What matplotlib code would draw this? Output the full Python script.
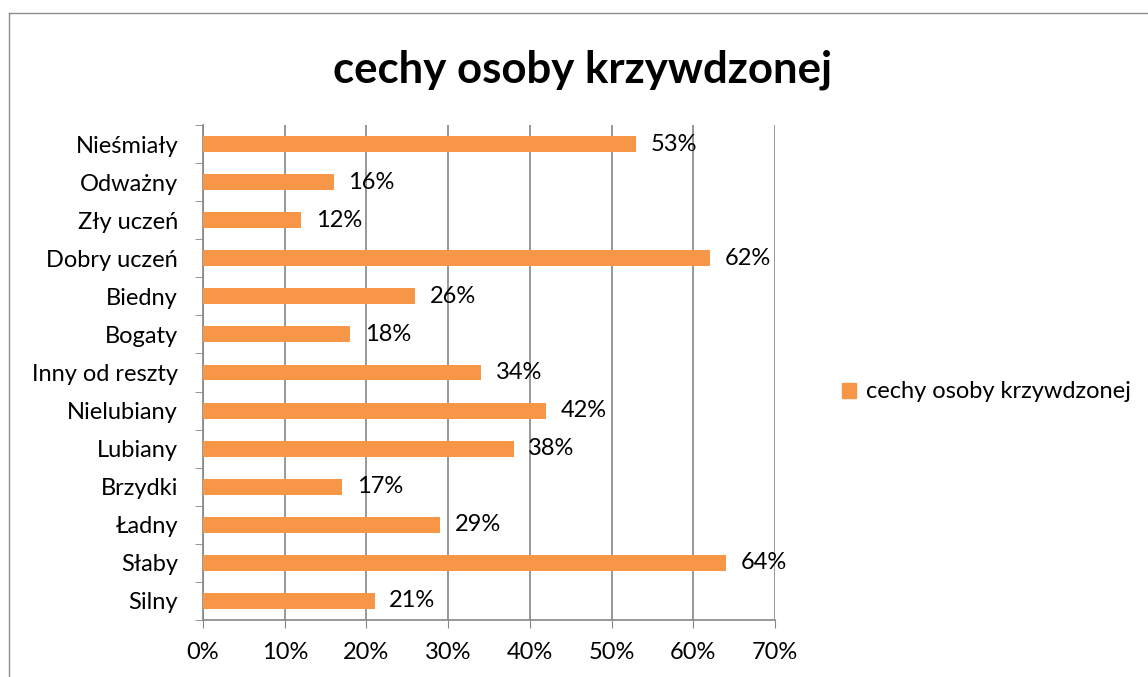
import matplotlib.pyplot as plt
from matplotlib.patches import Rectangle
from matplotlib.lines import Line2D

# Data (top to bottom)
categories = ['Nieśmiały', 'Odważny', 'Zły uczeń', 'Dobry uczeń', 'Biedny',
              'Bogaty', 'Inny od reszty', 'Nielubiany', 'Lubiany', 'Brzydki',
              'Ładny', 'Słaby', 'Silny']
values = [53, 16, 12, 62, 26, 18, 34, 42, 38, 17, 29, 64, 21]
series_name = 'cechy osoby krzywdzonej'
x_ticks = [0, 10, 20, 30, 40, 50, 60, 70]

plt.rcParams['font.family'] = ['Lato', 'DejaVu Sans']

bar_color = '#F79646'
grid_color = '#868686'
fs = 17

fig = plt.figure(figsize=(11.48, 6.77), dpi=100)
ax = fig.add_axes([203 / 1148, 57 / 677, 572 / 1148, 495 / 677])

# categories bottom to top so the first one sits on top
n = len(categories)
pos = list(range(n))
vals_rev = values[::-1]
ax.barh(pos, vals_rev, height=0.42, color=bar_color, zorder=3,
        label=series_name)

for p, v in zip(pos, vals_rev):
    ax.text(v + 1.8, p, f'{v}%', va='center', ha='left', fontsize=fs,
            color='black', zorder=4)

ax.set_xlim(0, 70)
ax.set_ylim(-0.5, n - 0.5)
ax.set_xticks(x_ticks)
ax.set_xticklabels([f'{t}%' for t in x_ticks], fontsize=fs)
ax.set_yticks(pos)
ax.set_yticklabels(categories[::-1], fontsize=fs)
ax.tick_params(axis='y', length=0, pad=18)
ax.tick_params(axis='x', length=6, color=grid_color, pad=10)

# category boundary ticks on the y axis
ax.set_yticks([i - 0.5 for i in range(n + 1)], minor=True)
ax.tick_params(axis='y', which='minor', length=6, color=grid_color)

ax.grid(axis='x', color=grid_color, linewidth=1.2, zorder=0)
for side in ['top', 'right']:
    ax.spines[side].set_visible(False)
for side in ['left', 'bottom']:
    ax.spines[side].set_color(grid_color)
    ax.spines[side].set_linewidth(1.2)

fig.text(583 / 1148, 1 - 70 / 677, series_name, ha='center', va='center',
         fontsize=31.5, fontweight='bold')

handle = Rectangle((0, 0), 1, 1, color=bar_color)
fig.legend([handle], [series_name], loc='center left',
           bbox_to_anchor=(821 / 1148, 1 - 392 / 677), frameon=False,
           fontsize=fs, handlelength=0.6, handleheight=0.6,
           handletextpad=0.4)

# outer chart border (only left and top visible in the crop)
fig.add_artist(Line2D([9 / 1148, 9 / 1148], [0, 1 - 13 / 677],
                      transform=fig.transFigure, color='#8c8c8c', lw=1))
fig.add_artist(Line2D([9 / 1148, 1], [1 - 13 / 677, 1 - 13 / 677],
                      transform=fig.transFigure, color='#8c8c8c', lw=1))

fig.savefig('out.png', dpi=100)
